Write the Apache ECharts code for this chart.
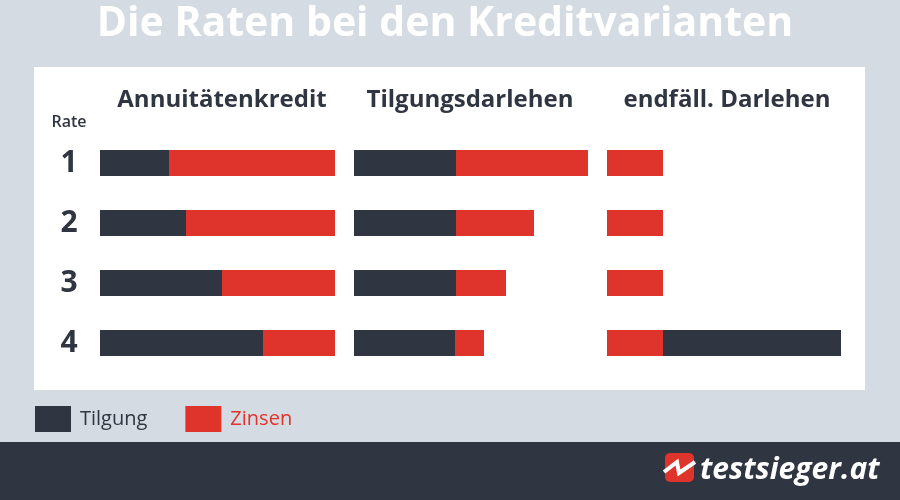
<!DOCTYPE html>
<html><head><meta charset="utf-8">
<script src="https://cdn.jsdelivr.net/npm/echarts@6/dist/echarts.min.js"></script>
<style>html,body{margin:0;padding:0;background:#d5dbe3}#c{width:900px;height:500px}</style>
</head><body><div id="c"></div>
<script>
var rates = ['1','2','3','4'];
var groups = ['Annuitätenkredit','Tilgungsdarlehen','endfäll. Darlehen'];
var annuTilgung = [69, 86, 122, 163];
var annuZinsen  = [166, 149, 113, 72];
var tilgTilgung = [102, 102, 102, 101];
var tilgZinsen  = [132, 78, 50, 29];
var endfZinsen  = [56, 56, 56, 56];
var endfTilgung = [0, 0, 0, 178];

var DARK = '#2f3541', RED = '#df342b', FONT = '"Open Sans", sans-serif';
var chart = echarts.init(document.getElementById('c'));
var lefts = [100, 354, 607];
var grids = lefts.map(function(l){ return {left:l, top:133, width:235, height:240}; });
var xAxes = lefts.map(function(l,i){ return {gridIndex:i, type:'value', min:0, max:235, show:false}; });
var yAxes = lefts.map(function(l,i){ return {gridIndex:i, type:'category', data:rates, inverse:true,
  axisLine:{show:false}, axisTick:{show:false}, splitLine:{show:false},
  axisLabel:{show:i===0, align:'center', margin:31, color:DARK, fontSize:30, fontWeight:'bold', fontFamily:FONT}}; });
function bar(name, data, gi, color){
  return {type:'bar', name:name, data:data, xAxisIndex:gi, yAxisIndex:gi, stack:'s'+gi,
    barWidth:26, itemStyle:{color:color}, silent:true, emphasis:{disabled:true}};
}
var series = [
  bar('Tilgung', annuTilgung, 0, DARK), bar('Zinsen', annuZinsen, 0, RED),
  bar('Tilgung', tilgTilgung, 1, DARK), bar('Zinsen', tilgZinsen, 1, RED),
  bar('Zinsen', endfZinsen, 2, RED), bar('Tilgung', endfTilgung, 2, DARK)
];
var headerX = [222, 470, 727];
var graphic = [
  {type:'rect', shape:{x:34, y:67, width:831, height:323}, style:{fill:'#ffffff'}, z:-10},
  {type:'rect', shape:{x:0, y:442, width:900, height:58}, style:{fill:DARK}, z:-10},
  {type:'text', x:445, y:4, style:{text:'Die Raten bei den Kreditvarianten', fill:'#ffffff', font:'bold 41px "Open Sans"', textAlign:'center', textVerticalAlign:'top'}},
  {type:'text', x:69, y:114, style:{text:'Rate', fill:DARK, font:'600 16px "Open Sans"', textAlign:'center', textVerticalAlign:'top'}},
  {type:'rect', shape:{x:665, y:453, width:29, height:29, r:5}, style:{fill:RED}},
  {type:'polyline', shape:{points:[[664,472],[677,462],[679,473],[695,462]]}, style:{stroke:'#ffffff', lineWidth:4, fill:null}},
  {type:'text', x:700, y:470, style:{text:'testsieger.at', fill:'#ffffff', font:'italic bold 30px "Open Sans"', textAlign:'left', textVerticalAlign:'middle'}}
];
groups.forEach(function(g,i){
  graphic.push({type:'text', x:headerX[i], y:88, style:{text:g, fill:DARK, font:'bold 24px "Open Sans"', textAlign:'center', textVerticalAlign:'top'}});
});
chart.setOption({
  animation:false,
  backgroundColor:'#d5dbe3',
  grid:grids, xAxis:xAxes, yAxis:yAxes, series:series,
  legend:{left:35, top:406, padding:0, itemWidth:36, itemHeight:26, itemGap:38, icon:'rect', selectedMode:false,
    data:[{name:'Tilgung', textStyle:{color:DARK}}, {name:'Zinsen', textStyle:{color:RED}}],
    textStyle:{fontSize:20, fontFamily:FONT, padding:[4,0,0,4]}},
  graphic:graphic
});
</script></body></html>
